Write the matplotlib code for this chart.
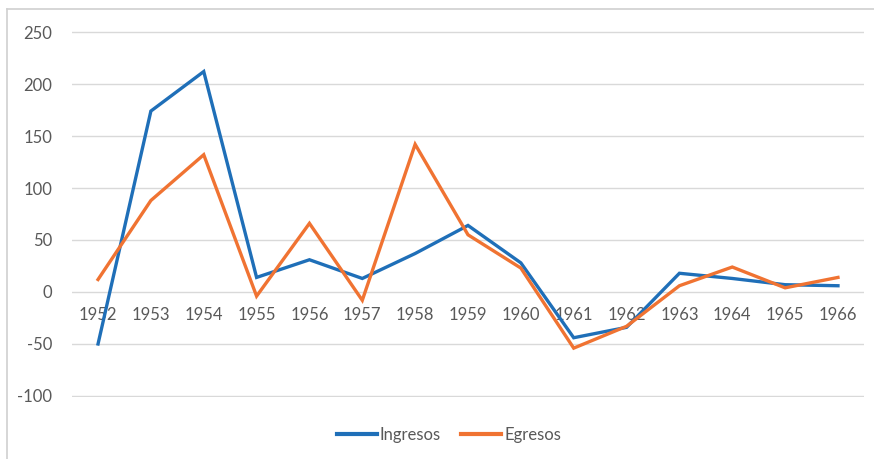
import matplotlib
matplotlib.use("Agg")
import matplotlib.pyplot as plt
from matplotlib.lines import Line2D

# data
years = [str(y) for y in range(1952, 1967)]
ingresos = [-50, 174, 212, 14, 31, 13, 37, 64, 28, -44, -34, 18, 13, 7, 6]
egresos = [12, 88, 132, -4, 66, -8, 142, 55, 23, -54, -33, 6, 24, 4, 14]
yticks = [-100, -50, 0, 50, 100, 150, 200, 250]

plt.rcParams['font.family'] = ['Lato', 'DejaVu Sans']

fig = plt.figure(figsize=(8.74, 4.59), dpi=100)
ax = fig.add_axes([71.6 / 874, 1 - 397 / 459, (864.4 - 71.6) / 874, (397 - 31) / 459])

x = list(range(len(years)))
ax.plot(x, ingresos, color='#1F6FB8', lw=2.4, label='Ingresos', solid_joinstyle='miter')
ax.plot(x, egresos, color='#F07332', lw=2.4, label='Egresos', solid_joinstyle='miter')

ax.set_xlim(-0.5, len(years) - 0.5)
ax.set_ylim(-101, 251)
ax.set_yticks(yticks)
ax.set_yticklabels([str(t) for t in yticks])
ax.grid(axis='y', color='#D9D9D9', lw=1)
ax.set_axisbelow(True)

ax.set_xticks(x)
ax.set_xticklabels(years)
ax.spines['bottom'].set_position(('data', 0))
for s in ax.spines.values():
    s.set_visible(False)
ax.tick_params(axis='x', length=0, pad=11, labelsize=12, labelcolor='#595959')
ax.tick_params(axis='y', length=0, pad=14, labelsize=12, labelcolor='#595959')

fig.legend(loc='center', bbox_to_anchor=(449 / 874, 1 - 435 / 459), ncol=2,
           frameon=False, fontsize=12, labelcolor='#595959',
           handlelength=2.4, handletextpad=0.2, columnspacing=1.2)
for line in fig.legends[0].get_lines():
    line.set_linewidth(3)

# chart border (only top and left visible in the reference)
fig.add_artist(Line2D([7 / 874, 7 / 874], [0, 1 - 9 / 459], color='#D0D0D0', lw=1.2,
                      transform=fig.transFigure))
fig.add_artist(Line2D([7 / 874, 1], [1 - 9 / 459, 1 - 9 / 459], color='#D0D0D0', lw=1.2,
                      transform=fig.transFigure))

fig.savefig('out.png', dpi=100)
